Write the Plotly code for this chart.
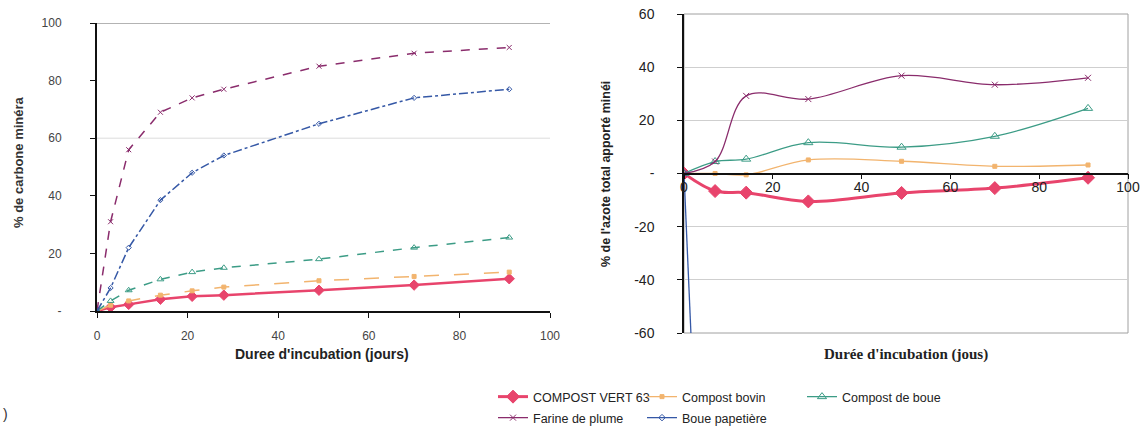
import plotly.graph_objects as go

# Sampling days (incubation time)
days = [0, 3, 7, 14, 21, 28, 49, 70, 91]
days_n = [0, 7, 14, 28, 49, 70, 91]

# Carbon mineralised (% of added C)
c_compost_vert = [0, 1.3, 2.3, 4.1, 5.1, 5.5, 7.2, 9.0, 11.2]
c_compost_bovin = [0, 2.0, 3.5, 5.5, 7.0, 8.3, 10.5, 12.0, 13.5]
c_compost_boue = [0, 3.5, 7.2, 11.0, 13.5, 15.0, 18.0, 22.0, 25.5]
c_farine_plume = [0, 31, 56, 69, 74, 77, 85, 89.5, 91.5]
c_boue_papetiere = [0, 8, 22, 38.5, 48, 54, 65, 74, 77]

# Nitrogen mineralised (% of total added N)
n_compost_vert = [0, -6.6, -7.2, -10.5, -7.3, -5.5, -1.6]
n_compost_bovin = [0, 0, -0.5, 5.1, 4.6, 2.7, 3.2]
n_compost_boue = [0, 4.5, 5.4, 11.6, 9.9, 14.0, 24.5]
n_farine_plume = [0, 4.5, 29.2, 28.0, 36.8, 33.4, 36.0]
n_boue_papetiere_days = [0, 7]
n_boue_papetiere = [0, -270]

series_names = ["COMPOST VERT 63", "Compost bovin", "Compost de boue",
                "Farine de plume", "Boue papetière"]

y_ticks_c = [0, 20, 40, 60, 80, 100]
y_ticklabels_c = ["-", "20", "40", "60", "80", "100"]
y_ticks_n = [-60, -40, -20, 0, 20, 40, 60]
y_ticklabels_n = ["-60", "-40", "-20", "-", "20", "40", "60"]
x_ticks = [0, 20, 40, 60, 80, 100]

RED = "#E8446C"
ORANGE = "#F2B46E"
GREEN = "#3C9C86"
PURPLE = "#8A2C6C"
BLUE = "#3558A6"

W, H = 1141, 427
def px(x):
    return x / W
def py(y):
    return 1 - y / H

SANS = "Liberation Sans, Arial, sans-serif"
SERIF = "Liberation Serif, Times New Roman, serif"

fig = go.Figure()

# ---- left panel: carbon ----
left_styles = [
    (c_compost_vert, RED, "solid", 2.5, "diamond", 8),
    (c_compost_bovin, ORANGE, "longdash", 1.5, "square", 4),
    (c_compost_boue, GREEN, "dash", 1.5, "triangle-up-open", 6),
    (c_farine_plume, PURPLE, "dash", 1.5, "x-thin-open", 5),
    (c_boue_papetiere, BLUE, "dashdot", 1.5, "diamond-open", 4),
]
for vals, col, dash, w, sym, size in left_styles:
    fig.add_trace(go.Scatter(
        x=days, y=vals, mode="lines+markers", xaxis="x", yaxis="y",
        line=dict(color=col, width=w, dash=dash),
        marker=dict(symbol=sym, size=size, color=col, line=dict(color=col, width=1)),
        showlegend=False, hoverinfo="skip"))

# ---- right panel: nitrogen (one legend box per entry) ----
right_data = [
    (days_n, n_compost_vert, RED, 3, "diamond", 10, series_names[0], "legend"),
    (days_n, n_compost_bovin, ORANGE, 1.3, "square", 4, series_names[1], "legend2"),
    (days_n, n_compost_boue, GREEN, 1.3, "triangle-up-open", 8, series_names[2], "legend3"),
    (days_n, n_farine_plume, PURPLE, 1.3, "x-thin-open", 6, series_names[3], "legend4"),
    (n_boue_papetiere_days, n_boue_papetiere, BLUE, 1.3, "diamond-open", 5, series_names[4], "legend5"),
]
for xs, vals, col, w, sym, size, name, leg in right_data:
    fig.add_trace(go.Scatter(
        x=xs, y=vals, mode="lines+markers", xaxis="x2", yaxis="y2", name=name,
        line=dict(color=col, width=w, shape="spline", smoothing=1),
        marker=dict(symbol=sym, size=size, color=col, line=dict(color=col, width=1)),
        legend=leg, hoverinfo="skip"))

axis_font = dict(family=SANS, size=12, color="#444")
axis_font_r = dict(family=SANS, size=14, color="#222")

left_dom_x = [px(97), px(550)]
left_dom_y = [py(311), py(23)]
right_dom_x = [px(684), px(1128)]
right_dom_y = [py(333), py(14)]

def legend_box(xpix, ypix):
    # ypix is the vertical centre of the entry
    return dict(x=px(xpix), y=py(ypix), xanchor="left", yanchor="middle",
                orientation="v", font=dict(family=SANS, size=12.5, color="#222"),
                tracegroupgap=0, bgcolor="rgba(0,0,0,0)")

fig.update_layout(
    width=W, height=H, autosize=False,
    margin=dict(l=0, r=0, t=0, b=0, autoexpand=False),
    paper_bgcolor="white", plot_bgcolor="white",
    xaxis=dict(domain=left_dom_x, anchor="y", range=[0, 100], tickvals=x_ticks,
               showline=True, linecolor="#111", linewidth=2, showgrid=False, zeroline=False,
               ticks="outside", ticklen=5, tickcolor="#111", tickfont=axis_font,
               ticklabelstandoff=8, automargin=False),
    yaxis=dict(domain=left_dom_y, anchor="x", range=[0, 100], tickvals=y_ticks_c,
               ticktext=y_ticklabels_c,
               showline=True, linecolor="#111", linewidth=2, showgrid=False, zeroline=False,
               ticks="outside", ticklen=5, tickcolor="#111", tickfont=axis_font,
               ticklabelstandoff=26, automargin=False),
    xaxis2=dict(domain=right_dom_x, anchor="free",
                position=right_dom_y[0] + 0.5 * (right_dom_y[1] - right_dom_y[0]),
                range=[0, 100], tickvals=x_ticks,
                showline=True, linecolor="#111", linewidth=1.5, showgrid=False, zeroline=False,
                ticks="outside", ticklen=5, tickcolor="#111", tickfont=axis_font_r,
                ticklabelstandoff=-4, automargin=False),
    yaxis2=dict(domain=right_dom_y, anchor="x2", range=[-60, 60], tickvals=y_ticks_n,
                ticktext=y_ticklabels_n,
                showline=True, linecolor="#111", linewidth=1.5, showgrid=True,
                gridcolor="#cfcfcf", gridwidth=1, zeroline=False,
                ticks="outside", ticklen=5, tickcolor="#111", tickfont=axis_font_r,
                ticklabelstandoff=20, automargin=False),
    legend=legend_box(493, 397),
    legend2=legend_box(642, 397),
    legend3=legend_box(802, 397),
    legend4=legend_box(493, 418),
    legend5=legend_box(642, 418),
)

# Reference lines of the carbon panel
fig.add_shape(type="line", xref="x domain", yref="y", x0=0, x1=1, y0=100, y1=100,
              line=dict(color="#9a9a9a", width=1.5), layer="below")
fig.add_shape(type="line", xref="x domain", yref="y", x0=0, x1=1, y0=60, y1=60,
              line=dict(color="#dcdcdc", width=1), layer="below")
# Frame of the nitrogen panel
fig.add_shape(type="rect", xref="x2 domain", yref="y2 domain", x0=0, x1=1, y0=0, y1=1,
              line=dict(color="#a0a0a0", width=1), layer="below")

def label(xpix, ypix, text, font, angle=0, xanchor="center"):
    fig.add_annotation(x=px(xpix), y=py(ypix), xref="paper", yref="paper",
                       xanchor=xanchor, yanchor="middle", showarrow=False,
                       text=text, textangle=angle, font=font)

# Axis titles
label(322, 354, "<b>Duree d'incubation (jours)</b>", dict(family=SANS, size=14, color="#222"))
label(18, 162, "<b>% de carbone minéra</b>", dict(family=SANS, size=13, color="#333"), -90)
label(906, 354, "<b>Durée d'incubation (jous)</b>", dict(family=SERIF, size=15, color="#222"))
label(606, 174, "<b>% de l'azote total apporté minéi</b>", dict(family=SANS, size=12.5, color="#222"), -90)
label(1, 414, ")", dict(family=SANS, size=14, color="#333"), xanchor="left")

fig.write_html("out.html", config={"responsive": False})
